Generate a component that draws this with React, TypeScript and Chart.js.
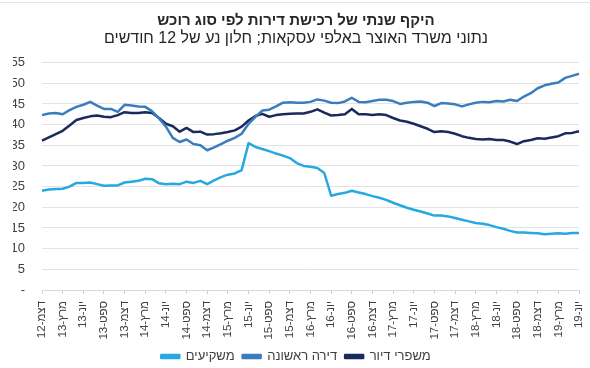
import React, { useEffect, useRef } from 'react';
import { Chart, registerables } from 'chart.js';

Chart.register(...registerables);

const TITLE = 'היקף שנתי של רכישת דירות לפי סוג רוכש';
const SUBTITLE = 'נתוני משרד האוצר באלפי עסקאות; חלון נע של 12 חודשים';

const MONTHS_HE = ['ינו', 'פבר', 'מרץ', 'אפר', 'מאי', 'יונ', 'יול', 'אוג', 'ספט', 'אוק', 'נוב', 'דצמ'];
// monthly categories, Dec-2012 .. Jun-2019
const CATEGORIES: string[] = [];
for (let k = 0; k < 79; k++) {
  const m = (11 + k) % 12;
  const y = 12 + Math.floor((11 + k) / 12);
  CATEGORIES.push(`${MONTHS_HE[m]}-${y}`);
}

const SERIES_NAMES = ['משקיעים', 'דירה ראשונה', 'משפרי דיור'];

const INVESTORS = [
  24.0, 24.3, 24.4, 24.5, 25.0, 25.9, 25.9, 26.0, 25.6, 25.2, 25.3, 25.3, 26.0, 26.2, 26.4, 26.9,
  26.8, 25.8, 25.6, 25.7, 25.6, 26.2, 25.9, 26.4, 25.6, 26.5, 27.3, 27.9, 28.2, 29.0, 35.5, 34.6,
  34.1, 33.6, 33.0, 32.5, 31.9, 30.7, 30.0, 29.8, 29.5, 28.3, 22.8, 23.2, 23.5, 24.0, 23.6, 23.2,
  22.7, 22.3, 21.8, 21.1, 20.5, 19.9, 19.4, 19.0, 18.5, 18.0, 18.0, 17.8, 17.4, 17.0, 16.6, 16.2,
  16.0, 15.7, 15.2, 14.8, 14.3, 13.9, 13.9, 13.8, 13.7, 13.5, 13.6, 13.7, 13.6, 13.8, 13.8,
];

const FIRST_HOME = [
  42.3, 42.7, 42.8, 42.5, 43.5, 44.3, 44.8, 45.5, 44.6, 43.8, 43.8, 43.1, 44.8, 44.6, 44.4, 44.3,
  43.2, 41.5, 39.5, 36.8, 35.8, 36.4, 35.3, 35.0, 33.8, 34.5, 35.3, 36.1, 36.8, 37.8, 40.2, 41.9,
  43.4, 43.6, 44.4, 45.3, 45.4, 45.3, 45.3, 45.5, 46.1, 45.8, 45.3, 45.2, 45.6, 46.5, 45.5, 45.4,
  45.7, 46.0, 46.0, 45.7, 45.0, 45.3, 45.5, 45.6, 45.3, 44.5, 45.2, 45.1, 44.9, 44.4, 44.9, 45.3,
  45.5, 45.4, 45.7, 45.6, 46.0, 45.7, 46.8, 47.6, 48.8, 49.5, 49.9, 50.2, 51.3, 51.8, 52.3,
];

const UPGRADERS = [
  36.1, 36.9, 37.7, 38.5, 39.8, 41.1, 41.6, 42.0, 42.2, 41.9, 41.8, 42.3, 43.0, 42.8, 42.8, 43.0,
  42.8, 41.6, 40.2, 39.6, 38.3, 39.2, 38.2, 38.3, 37.6, 37.7, 37.9, 38.2, 38.6, 39.5, 41.0, 42.1,
  42.6, 41.9, 42.3, 42.5, 42.6, 42.7, 42.7, 43.1, 43.7, 42.9, 42.2, 42.3, 42.5, 43.8, 42.5, 42.5,
  42.3, 42.5, 42.3, 41.6, 41.0, 40.7, 40.2, 39.6, 39.0, 38.2, 38.4, 38.2, 37.8, 37.2, 36.8, 36.5,
  36.4, 36.5, 36.3, 36.3, 35.9, 35.3, 36.0, 36.3, 36.7, 36.6, 36.9, 37.2, 37.9, 38.0, 38.4,
];

const COLORS = ['#26a9e0', '#3a7dbf', '#1b2a5c'];
const FONT = "'Liberation Sans', Arial, sans-serif";

export default function App() {
  const canvasRef = useRef<HTMLCanvasElement | null>(null);

  useEffect(() => {
    if (!canvasRef.current) return;
    const chart = new Chart(canvasRef.current, {
      type: 'line',
      data: {
        labels: CATEGORIES,
        datasets: [INVESTORS, FIRST_HOME, UPGRADERS].map((d, i) => ({
          label: SERIES_NAMES[i],
          data: d,
          borderColor: COLORS[i],
          backgroundColor: COLORS[i],
          borderWidth: 2.5,
          pointRadius: 0,
          tension: 0,
          borderJoinStyle: 'round' as const,
          fill: false,
        })),
      },
      options: {
        responsive: true,
        maintainAspectRatio: false,
        animation: false,
        layout: { padding: { left: 13, right: 11, top: 0, bottom: -5 } },
        plugins: {
          title: {
            display: true,
            text: TITLE,
            color: '#262626',
            font: { family: FONT, size: 15, weight: 'bold', lineHeight: 1.2 },
            padding: { top: 12, bottom: 0 },
          },
          subtitle: {
            display: true,
            text: SUBTITLE,
            color: '#262626',
            font: { family: FONT, size: 16, lineHeight: 1.1 },
            padding: { top: 0, bottom: 15 },
          },
          legend: {
            position: 'bottom',
            labels: {
              boxWidth: 18,
              boxHeight: 3,
              color: '#404040',
              font: { family: FONT, size: 13 },
              padding: 8,
            },
          },
          tooltip: { enabled: false },
        },
        scales: {
          x: {
            afterFit: (scale: any) => {
              scale.height = 52;
              scale.paddingLeft = 0;
              scale.paddingRight = 0;
            },
            grid: {
              display: true,
              drawOnChartArea: false,
              drawTicks: true,
              tickLength: 4,
              color: '#d0d0d0',
            },
            border: { display: true, color: '#d9d9d9' },
            ticks: {
              autoSkip: false,
              minRotation: 90,
              maxRotation: 90,
              padding: 7,
              color: '#404040',
              font: { family: FONT, size: 11.5 },
              callback: (_v: any, index: number) => (index % 3 === 0 ? CATEGORIES[index] : null),
            },
          },
          y: {
            min: 0,
            max: 55,
            afterFit: (scale: any) => {
              scale.width = 29;
            },
            grid: { color: '#e3e3e3', drawTicks: false },
            border: { display: false },
            ticks: {
              stepSize: 5,
              padding: 17,
              color: '#404040',
              font: { family: FONT, size: 13 },
              callback: (v: any) => (v === 0 ? '-' : String(v)),
            },
          },
        },
      },
    });
    return () => chart.destroy();
  }, []);

  return (
    <div style={{ position: 'absolute', left: 0, top: 0, width: 590, height: 368, background: '#fff' }}>
      <div style={{ position: 'absolute', left: 0, top: 2, width: 590, height: 1, background: '#e4e4e4' }} />
      <canvas ref={canvasRef} />
    </div>
  );
}
